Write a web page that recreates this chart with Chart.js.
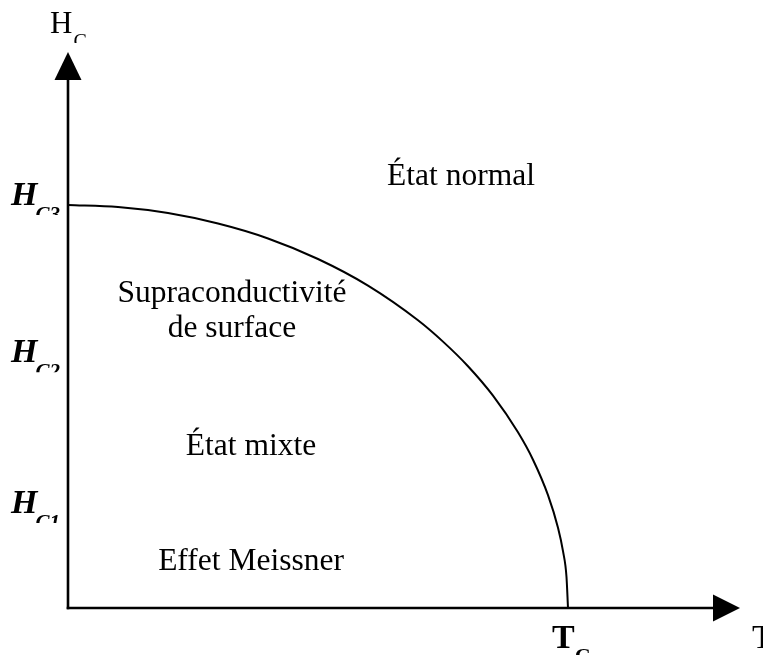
<!DOCTYPE html>
<html><head><meta charset="utf-8">
<script src="https://cdn.jsdelivr.net/npm/chart.js@4/dist/chart.umd.min.js"></script>
<style>html,body{margin:0;padding:0;background:#fff;overflow:hidden}canvas{display:block}</style>
</head><body>
<canvas id="c" width="763" height="655"></canvas>
<script>
// Temperature in units of Tc, critical field in units of Hc3
const temperature   = [0.00, 0.10, 0.20, 0.30, 0.40, 0.50, 0.60, 0.70, 0.75, 0.80, 0.85, 0.90, 0.93, 0.96, 0.98, 0.99, 0.997, 1.00];
const criticalField = [1.000, 0.995, 0.980, 0.954, 0.917, 0.866, 0.800, 0.714, 0.661, 0.600, 0.527, 0.436, 0.368, 0.280, 0.199, 0.141, 0.077, 0.000];

// Axis marks
const yTickValues = [0.236, 0.61, 1.0];
const yTickMain   = ['H', 'H', 'H'];
const yTickSubs   = ['C1', 'C2', 'C3'];
const xTickValues = [1.0];
const xTickMain   = ['T'];
const xTickSubs   = ['C'];
const yAxisTitle  = ['H', 'C'];
const xAxisTitle  = 'T';

// Region labels (text, anchor in data units)
const regionText = [['État normal'], ['Supraconductivité', 'de surface'], ['État mixte'], ['Effet Meissner']];
const regionT    = [0.786, 0.328, 0.366, 0.366];
const regionH    = [1.050, 0.759, 0.380, 0.094];

const SERIF = '"Liberation Serif", "Times New Roman", serif';

const overlay = {
  id: 'overlay',
  afterDraw(chart) {
    const ctx = chart.ctx, xs = chart.scales.x, ys = chart.scales.y, a = chart.chartArea;
    const x0 = xs.getPixelForValue(0), y0 = ys.getPixelForValue(0);
    ctx.save();
    ctx.strokeStyle = '#000'; ctx.fillStyle = '#000';
    ctx.lineWidth = 2.6;
    // y axis
    ctx.beginPath(); ctx.moveTo(x0, y0 + 1.3); ctx.lineTo(x0, a.top + 26); ctx.stroke();
    ctx.beginPath(); ctx.moveTo(x0, a.top); ctx.lineTo(x0 - 13.5, a.top + 28); ctx.lineTo(x0 + 13.5, a.top + 28); ctx.closePath(); ctx.fill();
    // x axis
    ctx.beginPath(); ctx.moveTo(x0 - 1.3, y0); ctx.lineTo(a.right - 25, y0); ctx.stroke();
    ctx.beginPath(); ctx.moveTo(a.right, y0); ctx.lineTo(a.right - 27, y0 - 13.5); ctx.lineTo(a.right - 27, y0 + 13.5); ctx.closePath(); ctx.fill();

    ctx.textBaseline = 'alphabetic';
    // y tick labels (bold italic, subscript clipped)
    yTickValues.forEach((v, i) => {
      const py = ys.getPixelForValue(v);
      ctx.font = 'italic bold 34px ' + SERIF;
      const wH = ctx.measureText(yTickMain[i]).width;
      ctx.font = 'italic bold 21px ' + SERIF;
      const wS = ctx.measureText(yTickSubs[i]).width;
      const left = x0 - 6 - wH - wS;
      ctx.font = 'italic bold 34px ' + SERIF; ctx.textAlign = 'left';
      ctx.fillText(yTickMain[i], left, py);
      ctx.save();
      ctx.beginPath(); ctx.rect(0, py, x0 - 3, 10); ctx.clip();
      ctx.font = 'italic bold 21px ' + SERIF;
      ctx.fillText(yTickSubs[i], left + wH - 2, py + 16);
      ctx.restore();
    });
    // x tick labels
    xTickValues.forEach((v, i) => {
      const px = xs.getPixelForValue(v);
      ctx.font = 'bold 34px ' + SERIF;
      const wT = ctx.measureText(xTickMain[i]).width;
      const left = px - 16;
      ctx.textAlign = 'left';
      ctx.fillText(xTickMain[i], left, y0 + 40);
      ctx.font = 'bold 22px ' + SERIF;
      ctx.fillText(xTickSubs[i], left + wT, y0 + 55);
    });
    // axis titles
    ctx.font = '31px ' + SERIF; ctx.textAlign = 'left';
    const wHt = ctx.measureText(yAxisTitle[0]).width;
    ctx.fillText(yAxisTitle[0], x0 - 18, a.top - 19);
    ctx.save();
    ctx.beginPath(); ctx.rect(0, a.top - 19, 200, 10); ctx.clip();
    ctx.font = '20px ' + SERIF;
    ctx.fillText(yAxisTitle[1], x0 - 18 + wHt + 1, a.top - 4);
    ctx.restore();
    ctx.font = '34px ' + SERIF;
    ctx.fillText(xAxisTitle, a.right + 12, y0 + 40);
    // region labels
    ctx.font = '31.5px ' + SERIF; ctx.textAlign = 'center';
    regionText.forEach((lines, i) => {
      const px = xs.getPixelForValue(regionT[i]), py = ys.getPixelForValue(regionH[i]);
      lines.forEach((s, k) => ctx.fillText(s, px, py + k * 35));
    });
    ctx.restore();
  }
};

new Chart(document.getElementById('c'), {
  type: 'scatter',
  data: {
    datasets: [{
      data: temperature.map((t, i) => ({x: t, y: criticalField[i]})),
      showLine: true,
      borderColor: '#000',
      borderWidth: 2,
      pointRadius: 0,
      cubicInterpolationMode: 'monotone',
      clip: false
    }]
  },
  options: {
    responsive: false,
    devicePixelRatio: 1,
    animation: false,
    layout: { padding: { left: 68, right: 23, top: 52, bottom: 47 } },
    plugins: { legend: { display: false }, tooltip: { enabled: false } },
    scales: {
      x: { type: 'linear', display: false, min: 0, max: 1.344 },
      y: { type: 'linear', display: false, min: 0, max: 1.3797 }
    }
  },
  plugins: [overlay]
});
</script>
</body></html>
